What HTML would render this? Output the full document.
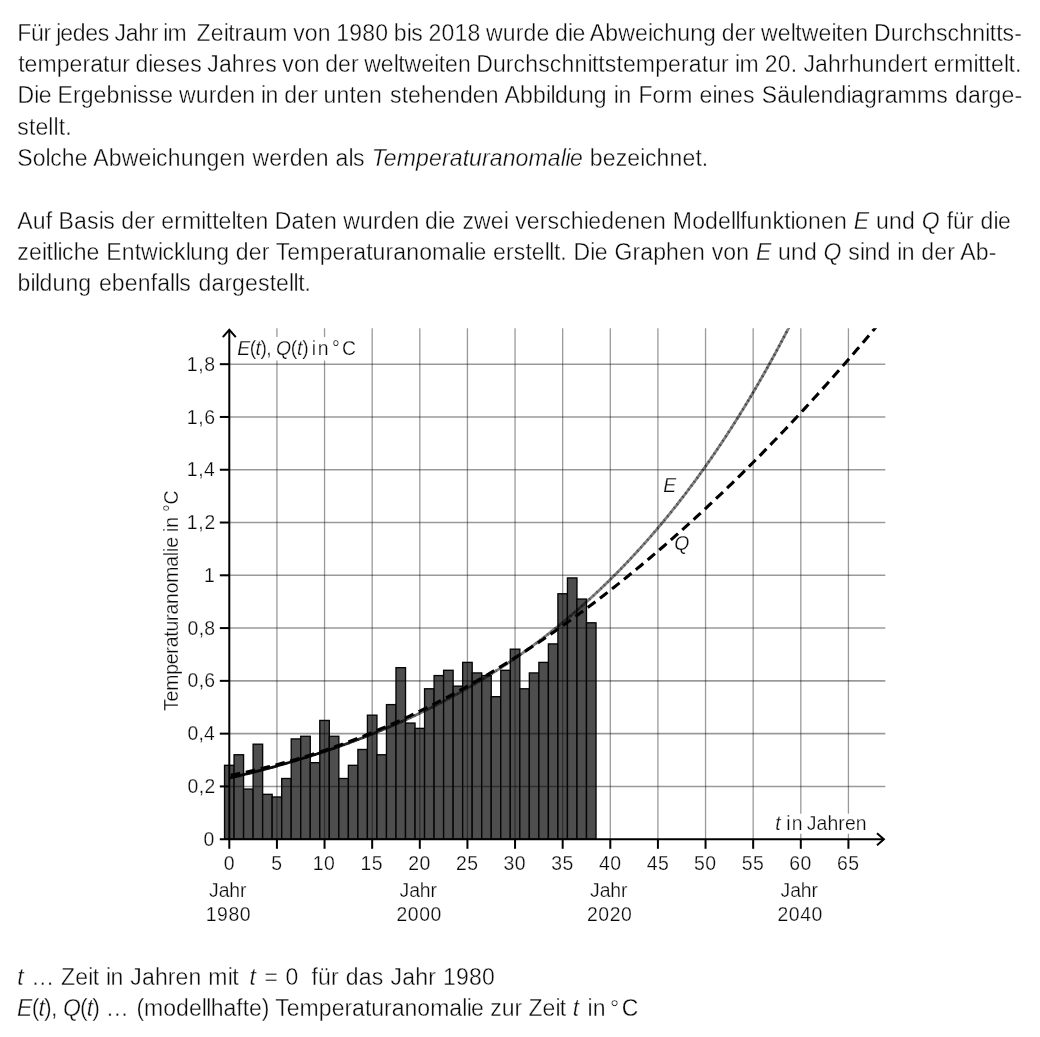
<!DOCTYPE html><html><head><meta charset="utf-8"><title>Temperaturanomalie</title><style>
html,body{margin:0;padding:0;background:#fff}
body{width:1040px;height:1037px;position:relative;overflow:hidden;font-family:"Liberation Sans",sans-serif;color:#0a0a0a}
#wrap{position:absolute;left:0;top:0;width:1040px;height:1037px;will-change:transform}
.t{position:absolute;white-space:nowrap;line-height:1;margin:0;font-size:23.0px;-webkit-text-stroke:0.35px #fff}
.c{font-size:19.4px;-webkit-text-stroke:0.25px #fff}
s{text-decoration:none}
s.n{letter-spacing:-0.5666px}s.m{letter-spacing:0.0197px}
svg{position:absolute;left:0;top:0}
</style></head><body><div id="wrap">
<svg width="1040" height="1037" viewBox="0 0 1040 1037">
<defs><clipPath id="cp"><rect x="0" y="328.3" width="1040" height="600"/></clipPath></defs>
<g fill="#4e4e4e" stroke="#050505" stroke-width="1.35">
<rect x="224.54" y="765.31" width="9.525" height="73.89"/>
<rect x="234.06" y="754.75" width="9.525" height="84.45"/>
<rect x="243.59" y="789.06" width="9.525" height="50.14"/>
<rect x="253.11" y="744.20" width="9.525" height="95.00"/>
<rect x="262.64" y="794.34" width="9.525" height="44.86"/>
<rect x="272.16" y="796.98" width="9.525" height="42.22"/>
<rect x="281.69" y="778.50" width="9.525" height="60.70"/>
<rect x="291.21" y="738.92" width="9.525" height="100.28"/>
<rect x="300.74" y="736.28" width="9.525" height="102.92"/>
<rect x="310.26" y="762.67" width="9.525" height="76.53"/>
<rect x="319.79" y="720.45" width="9.525" height="118.75"/>
<rect x="329.31" y="736.28" width="9.525" height="102.92"/>
<rect x="338.84" y="778.50" width="9.525" height="60.70"/>
<rect x="348.36" y="765.31" width="9.525" height="73.89"/>
<rect x="357.89" y="749.47" width="9.525" height="89.73"/>
<rect x="367.41" y="715.17" width="9.525" height="124.03"/>
<rect x="376.94" y="754.75" width="9.525" height="84.45"/>
<rect x="386.46" y="704.61" width="9.525" height="134.59"/>
<rect x="395.99" y="667.67" width="9.525" height="171.53"/>
<rect x="405.51" y="723.08" width="9.525" height="116.12"/>
<rect x="415.04" y="728.36" width="9.525" height="110.84"/>
<rect x="424.56" y="688.78" width="9.525" height="150.42"/>
<rect x="434.09" y="675.58" width="9.525" height="163.62"/>
<rect x="443.61" y="670.30" width="9.525" height="168.90"/>
<rect x="453.14" y="686.14" width="9.525" height="153.06"/>
<rect x="462.66" y="662.39" width="9.525" height="176.81"/>
<rect x="472.19" y="672.94" width="9.525" height="166.26"/>
<rect x="481.71" y="675.58" width="9.525" height="163.62"/>
<rect x="491.24" y="696.69" width="9.525" height="142.51"/>
<rect x="500.76" y="670.30" width="9.525" height="168.90"/>
<rect x="510.29" y="649.19" width="9.525" height="190.01"/>
<rect x="519.81" y="688.78" width="9.525" height="150.42"/>
<rect x="529.34" y="672.94" width="9.525" height="166.26"/>
<rect x="538.86" y="662.39" width="9.525" height="176.81"/>
<rect x="548.39" y="643.91" width="9.525" height="195.29"/>
<rect x="557.91" y="593.77" width="9.525" height="245.43"/>
<rect x="567.44" y="577.94" width="9.525" height="261.26"/>
<rect x="576.96" y="599.05" width="9.525" height="240.15"/>
<rect x="586.49" y="622.80" width="9.525" height="216.40"/>
</g>
<g stroke="#000" stroke-opacity="0.40" stroke-width="1.55" fill="none">
<line x1="276.93" y1="328.3" x2="276.93" y2="839.2" stroke-width="1.3"/>
<line x1="324.55" y1="328.3" x2="324.55" y2="839.2" stroke-width="1.3"/>
<line x1="372.18" y1="328.3" x2="372.18" y2="839.2" stroke-width="1.3"/>
<line x1="419.80" y1="328.3" x2="419.80" y2="839.2" stroke-width="1.3"/>
<line x1="467.43" y1="328.3" x2="467.43" y2="839.2" stroke-width="1.3"/>
<line x1="515.05" y1="328.3" x2="515.05" y2="839.2" stroke-width="1.3"/>
<line x1="562.67" y1="328.3" x2="562.67" y2="839.2" stroke-width="1.3"/>
<line x1="610.30" y1="328.3" x2="610.30" y2="839.2" stroke-width="1.3"/>
<line x1="657.92" y1="328.3" x2="657.92" y2="839.2" stroke-width="1.3"/>
<line x1="705.55" y1="328.3" x2="705.55" y2="839.2" stroke-width="1.3"/>
<line x1="753.17" y1="328.3" x2="753.17" y2="839.2" stroke-width="1.3"/>
<line x1="800.80" y1="328.3" x2="800.80" y2="839.2" stroke-width="1.3"/>
<line x1="848.42" y1="328.3" x2="848.42" y2="839.2" stroke-width="1.3"/>
<line x1="229.3" y1="786.42" x2="885.3" y2="786.42"/>
<line x1="229.3" y1="733.64" x2="885.3" y2="733.64"/>
<line x1="229.3" y1="680.86" x2="885.3" y2="680.86"/>
<line x1="229.3" y1="628.08" x2="885.3" y2="628.08"/>
<line x1="229.3" y1="575.30" x2="885.3" y2="575.30"/>
<line x1="229.3" y1="522.52" x2="885.3" y2="522.52"/>
<line x1="229.3" y1="469.74" x2="885.3" y2="469.74"/>
<line x1="229.3" y1="416.96" x2="885.3" y2="416.96"/>
<line x1="229.3" y1="364.18" x2="885.3" y2="364.18"/>
</g>
<rect x="236" y="337" width="121" height="23.5" fill="#fff"/>
<rect x="773" y="813.7" width="94" height="20" fill="#fff"/>
<g clip-path="url(#cp)" fill="none">
<g stroke="#000" stroke-width="2.8" stroke-linecap="butt">
<path d="M229.30,778.08 L230.20,777.87 L231.11,777.66 L232.01,777.45 L232.92,777.23 L233.82,777.02 L234.73,776.81" stroke-opacity="0.95"/>
<path d="M234.06,776.97 L234.97,776.75 L235.87,776.54 L236.78,776.32 L237.68,776.10 L238.59,775.89 L239.49,775.67" stroke-opacity="0.95"/>
<path d="M238.83,775.83 L239.73,775.61 L240.63,775.39 L241.54,775.17 L242.44,774.95 L243.35,774.73 L244.25,774.51" stroke-opacity="0.95"/>
<path d="M243.59,774.67 L244.49,774.45 L245.40,774.23 L246.30,774.00 L247.21,773.78 L248.11,773.55 L249.02,773.33" stroke-opacity="0.95"/>
<path d="M248.35,773.50 L249.25,773.27 L250.16,773.04 L251.06,772.81 L251.97,772.59 L252.87,772.36 L253.78,772.13" stroke-opacity="0.95"/>
<path d="M253.11,772.30 L254.02,772.07 L254.92,771.84 L255.83,771.60 L256.73,771.37 L257.64,771.14 L258.54,770.90" stroke-opacity="0.95"/>
<path d="M257.88,771.08 L258.78,770.84 L259.68,770.61 L260.59,770.37 L261.49,770.13 L262.40,769.89 L263.30,769.66" stroke-opacity="0.95"/>
<path d="M262.64,769.83 L263.54,769.59 L264.45,769.35 L265.35,769.11 L266.26,768.87 L267.16,768.63 L268.07,768.39" stroke-opacity="0.95"/>
<path d="M267.40,768.57 L268.30,768.32 L269.21,768.08 L270.11,767.83 L271.02,767.59 L271.92,767.34 L272.83,767.09" stroke-opacity="0.95"/>
<path d="M272.16,767.28 L273.07,767.03 L273.97,766.78 L274.88,766.53 L275.78,766.28 L276.69,766.03 L277.59,765.78" stroke-opacity="0.95"/>
<path d="M276.92,765.96 L277.83,765.71 L278.73,765.46 L279.64,765.21 L280.54,764.95 L281.45,764.70 L282.35,764.44" stroke-opacity="0.95"/>
<path d="M281.69,764.63 L282.59,764.37 L283.50,764.11 L284.40,763.86 L285.31,763.60 L286.21,763.34 L287.12,763.07" stroke-opacity="0.95"/>
<path d="M286.45,763.27 L287.35,763.01 L288.26,762.74 L289.16,762.48 L290.07,762.22 L290.97,761.95 L291.88,761.69" stroke-opacity="0.95"/>
<path d="M291.21,761.88 L292.12,761.62 L293.02,761.35 L293.93,761.08 L294.83,760.81 L295.74,760.54 L296.64,760.27" stroke-opacity="0.95"/>
<path d="M295.97,760.47 L296.88,760.20 L297.78,759.93 L298.69,759.65 L299.59,759.38 L300.50,759.11 L301.40,758.83" stroke-opacity="0.95"/>
<path d="M300.74,759.03 L301.64,758.76 L302.55,758.48 L303.45,758.20 L304.36,757.92 L305.26,757.64 L306.17,757.36" stroke-opacity="0.95"/>
<path d="M305.50,757.57 L306.40,757.29 L307.31,757.01 L308.21,756.73 L309.12,756.44 L310.02,756.16 L310.93,755.87" stroke-opacity="0.95"/>
<path d="M310.26,756.08 L311.17,755.80 L312.07,755.51 L312.98,755.22 L313.88,754.93 L314.79,754.64 L315.69,754.35" stroke-opacity="0.95"/>
<path d="M315.02,754.56 L315.93,754.27 L316.83,753.98 L317.74,753.69 L318.64,753.39 L319.55,753.10 L320.45,752.80" stroke-opacity="0.95"/>
<path d="M319.79,753.02 L320.69,752.72 L321.60,752.43 L322.50,752.13 L323.41,751.83 L324.31,751.53 L325.22,751.22" stroke-opacity="0.93"/>
<path d="M324.55,751.45 L325.45,751.14 L326.36,750.84 L327.26,750.54 L328.17,750.23 L329.07,749.93 L329.98,749.62" stroke-opacity="0.92"/>
<path d="M329.31,749.85 L330.22,749.54 L331.12,749.23 L332.03,748.92 L332.93,748.61 L333.84,748.30 L334.74,747.98" stroke-opacity="0.90"/>
<path d="M334.08,748.21 L334.98,747.90 L335.88,747.59 L336.79,747.27 L337.69,746.96 L338.60,746.64 L339.50,746.32" stroke-opacity="0.88"/>
<path d="M338.84,746.55 L339.74,746.24 L340.65,745.92 L341.55,745.59 L342.46,745.27 L343.36,744.95 L344.27,744.62" stroke-opacity="0.86"/>
<path d="M343.60,744.86 L344.50,744.54 L345.41,744.21 L346.31,743.89 L347.22,743.56 L348.12,743.23 L349.03,742.90" stroke-opacity="0.85"/>
<path d="M348.36,743.14 L349.27,742.81 L350.17,742.48 L351.08,742.15 L351.98,741.81 L352.89,741.48 L353.79,741.14" stroke-opacity="0.83"/>
<path d="M353.13,741.39 L354.03,741.05 L354.93,740.71 L355.84,740.38 L356.74,740.04 L357.65,739.69 L358.55,739.35" stroke-opacity="0.81"/>
<path d="M357.89,739.60 L358.79,739.26 L359.70,738.92 L360.60,738.57 L361.51,738.23 L362.41,737.88 L363.32,737.53" stroke-opacity="0.79"/>
<path d="M362.65,737.79 L363.55,737.44 L364.46,737.09 L365.36,736.74 L366.27,736.38 L367.17,736.03 L368.08,735.67" stroke-opacity="0.78"/>
<path d="M367.41,735.94 L368.24,735.61 L369.06,735.29 L369.89,734.96 L370.71,734.63 L371.54,734.30 L372.37,733.98" stroke-opacity="0.76"/>
<path d="M371.70,734.24 L372.52,733.91 L373.35,733.58 L374.18,733.25 L375.00,732.92 L375.83,732.58 L376.65,732.25" stroke-opacity="0.74"/>
<path d="M375.99,732.52 L376.81,732.18 L377.64,731.85 L378.46,731.51 L379.29,731.17 L380.11,730.83 L380.94,730.49" stroke-opacity="0.73"/>
<path d="M380.27,730.77 L381.10,730.43 L381.92,730.09 L382.75,729.74 L383.57,729.40 L384.40,729.06 L385.22,728.71" stroke-opacity="0.71"/>
<path d="M384.56,728.99 L385.38,728.64 L386.21,728.30 L387.03,727.95 L387.86,727.60 L388.69,727.25 L389.51,726.90" stroke-opacity="0.70"/>
<path d="M388.84,727.18 L389.67,726.83 L390.49,726.48 L391.32,726.12 L392.15,725.77 L392.97,725.41 L393.80,725.05" stroke-opacity="0.68"/>
<path d="M393.13,725.34 L393.96,724.98 L394.78,724.63 L395.61,724.27 L396.43,723.91 L397.26,723.54 L398.08,723.18" stroke-opacity="0.67"/>
<path d="M397.42,723.47 L398.24,723.11 L399.07,722.75 L399.89,722.38 L400.72,722.01 L401.54,721.65 L402.37,721.28" stroke-opacity="0.65"/>
<path d="M401.70,721.57 L402.53,721.21 L403.35,720.83 L404.18,720.46 L405.00,720.09 L405.83,719.72 L406.66,719.34" stroke-opacity="0.63"/>
<path d="M405.99,719.64 L406.81,719.27 L407.64,718.89 L408.47,718.51 L409.29,718.14 L410.12,717.76 L410.94,717.37" stroke-opacity="0.62"/>
<path d="M410.28,717.68 L411.10,717.30 L411.93,716.92 L412.75,716.53 L413.58,716.15 L414.40,715.76 L415.23,715.38" stroke-opacity="0.60"/>
<path d="M414.56,715.69 L415.39,715.30 L416.21,714.91 L417.04,714.52 L417.86,714.13 L418.69,713.74 L419.51,713.34" stroke-opacity="0.59"/>
<path d="M418.85,713.66 L419.67,713.27 L420.50,712.87 L421.32,712.48 L422.15,712.08 L422.98,711.68 L423.80,711.28" stroke-opacity="0.57"/>
<path d="M423.13,711.60 L423.96,711.20 L424.78,710.80 L425.61,710.40 L426.44,709.99 L427.26,709.59 L428.09,709.18" stroke-opacity="0.56"/>
<path d="M427.42,709.51 L428.25,709.10 L429.07,708.69 L429.90,708.28 L430.72,707.87 L431.55,707.46 L432.37,707.05" stroke-opacity="0.54"/>
<path d="M431.71,707.38 L432.53,706.97 L433.36,706.55 L434.18,706.13 L435.01,705.72 L435.83,705.30 L436.66,704.88" stroke-opacity="0.53"/>
<path d="M435.99,705.22 L436.82,704.80 L437.64,704.37 L438.47,703.95 L439.29,703.53 L440.12,703.10 L440.95,702.67" stroke-opacity="0.51"/>
<path d="M440.28,703.02 L441.10,702.59 L441.93,702.16 L442.76,701.73 L443.58,701.30 L444.41,700.87 L445.23,700.43" stroke-opacity="0.50"/>
<path d="M444.57,700.78 L445.39,700.35 L446.22,699.91 L447.04,699.48 L447.87,699.04 L448.69,698.60 L449.52,698.16" stroke-opacity="0.50"/>
<path d="M448.85,698.51 L449.68,698.07 L450.50,697.63 L451.33,697.18 L452.15,696.74 L452.98,696.29 L453.80,695.84" stroke-opacity="0.50"/>
<path d="M453.14,696.20 L453.96,695.75 L454.79,695.30 L455.61,694.85 L456.44,694.40 L457.27,693.94 L458.09,693.49" stroke-opacity="0.50"/>
<path d="M457.42,693.86 L458.25,693.40 L459.07,692.94 L459.90,692.48 L460.73,692.02 L461.55,691.56 L462.38,691.10" stroke-opacity="0.50"/>
<path d="M461.71,691.47 L462.54,691.01 L463.36,690.54 L464.19,690.08 L465.01,689.61 L465.84,689.14 L466.66,688.67" stroke-opacity="0.50"/>
<path d="M466.00,689.05 L466.82,688.58 L467.65,688.10 L468.47,687.63 L469.30,687.15 L470.12,686.68 L470.95,686.20" stroke-opacity="0.50"/>
<path d="M470.28,686.58 L471.11,686.10 L471.93,685.62 L472.76,685.14 L473.58,684.66 L474.41,684.17 L475.24,683.69" stroke-opacity="0.50"/>
<path d="M474.57,684.08 L475.39,683.59 L476.22,683.10 L477.05,682.61 L477.87,682.12 L478.70,681.63 L479.52,681.13" stroke-opacity="0.50"/>
<path d="M478.86,681.53 L479.68,681.04 L480.51,680.54 L481.33,680.04 L482.16,679.54 L482.98,679.04 L483.81,678.54" stroke-opacity="0.50"/>
<path d="M483.14,678.95 L483.97,678.44 L484.79,677.94 L485.62,677.43 L486.44,676.92 L487.27,676.41 L488.09,675.90" stroke-opacity="0.50"/>
<path d="M487.43,676.32 L488.25,675.81 L489.08,675.29 L489.90,674.78 L490.73,674.26 L491.56,673.74 L492.38,673.22" stroke-opacity="0.50"/>
<path d="M491.71,673.64 L492.54,673.12 L493.36,672.60 L494.19,672.08 L495.02,671.55 L495.84,671.03 L496.67,670.50" stroke-opacity="0.50"/>
<path d="M496.00,670.93 L496.83,670.40 L497.65,669.87 L498.48,669.34 L499.30,668.80 L500.13,668.27 L500.95,667.73" stroke-opacity="0.50"/>
<path d="M500.29,668.17 L501.11,667.63 L501.94,667.09 L502.76,666.55 L503.59,666.01 L504.41,665.46 L505.24,664.92" stroke-opacity="0.50"/>
<path d="M504.57,665.36 L505.40,664.81 L506.22,664.27 L507.05,663.72 L507.87,663.17 L508.70,662.61 L509.53,662.06" stroke-opacity="0.50"/>
<path d="M508.86,662.51 L509.68,661.95 L510.51,661.40 L511.34,660.84 L512.16,660.28 L512.99,659.72 L513.81,659.15" stroke-opacity="0.50"/>
<path d="M513.15,659.61 L513.89,659.10 L514.64,658.59 L515.38,658.07 L516.13,657.56 L516.88,657.04 L517.62,656.53" stroke-opacity="0.50"/>
<path d="M516.96,656.99 L517.70,656.47 L518.45,655.95 L519.19,655.43 L519.94,654.91 L520.69,654.39 L521.43,653.87" stroke-opacity="0.50"/>
<path d="M520.77,654.33 L521.51,653.81 L522.26,653.28 L523.00,652.76 L523.75,652.23 L524.50,651.70 L525.24,651.16" stroke-opacity="0.50"/>
<path d="M524.58,651.64 L525.32,651.11 L526.07,650.57 L526.81,650.04 L527.56,649.50 L528.31,648.96 L529.05,648.42" stroke-opacity="0.50"/>
<path d="M528.39,648.91 L529.13,648.37 L529.88,647.83 L530.62,647.28 L531.37,646.74 L532.12,646.19 L532.86,645.64" stroke-opacity="0.50"/>
<path d="M532.20,646.13 L532.94,645.59 L533.69,645.04 L534.43,644.49 L535.18,643.93 L535.93,643.38 L536.67,642.82" stroke-opacity="0.50"/>
<path d="M536.01,643.32 L536.75,642.76 L537.50,642.21 L538.24,641.65 L538.99,641.09 L539.74,640.53 L540.48,639.96" stroke-opacity="0.50"/>
<path d="M539.82,640.47 L540.56,639.90 L541.31,639.34 L542.05,638.77 L542.80,638.20 L543.55,637.63 L544.29,637.06" stroke-opacity="0.50"/>
<path d="M543.63,637.57 L544.37,637.00 L545.12,636.42 L545.86,635.85 L546.61,635.27 L547.36,634.69 L548.10,634.11" stroke-opacity="0.50"/>
<path d="M547.44,634.63 L548.18,634.05 L548.93,633.47 L549.67,632.88 L550.42,632.30 L551.17,631.71 L551.91,631.12" stroke-opacity="0.50"/>
<path d="M551.25,631.65 L551.99,631.06 L552.74,630.47 L553.48,629.88 L554.23,629.28 L554.98,628.69 L555.72,628.09" stroke-opacity="0.50"/>
<path d="M555.06,628.63 L555.80,628.03 L556.55,627.43 L557.29,626.83 L558.04,626.23 L558.79,625.62 L559.53,625.01" stroke-opacity="0.50"/>
<path d="M558.87,625.56 L559.61,624.95 L560.36,624.34 L561.10,623.73 L561.85,623.12 L562.60,622.51 L563.34,621.89" stroke-opacity="0.50"/>
<path d="M562.68,622.44 L563.42,621.83 L564.17,621.21 L564.91,620.59 L565.66,619.97 L566.41,619.35 L567.15,618.73" stroke-opacity="0.50"/>
<path d="M566.49,619.28 L567.23,618.66 L567.98,618.03 L568.72,617.41 L569.47,616.78 L570.22,616.15 L570.96,615.51" stroke-opacity="0.50"/>
<path d="M570.30,616.08 L571.04,615.45 L571.79,614.81 L572.53,614.17 L573.28,613.54 L574.03,612.90 L574.77,612.25" stroke-opacity="0.50"/>
<path d="M574.11,612.83 L574.85,612.19 L575.60,611.54 L576.34,610.90 L577.09,610.25 L577.84,609.60 L578.58,608.95" stroke-opacity="0.50"/>
<path d="M577.92,609.53 L578.66,608.88 L579.41,608.22 L580.15,607.57 L580.90,606.91 L581.65,606.25 L582.39,605.59" stroke-opacity="0.50"/>
<path d="M581.73,606.18 L582.47,605.52 L583.22,604.86 L583.96,604.19 L584.71,603.53 L585.46,602.86 L586.20,602.19" stroke-opacity="0.50"/>
<path d="M585.54,602.79 L586.28,602.12 L587.03,601.44 L587.77,600.77 L588.52,600.09 L589.27,599.41 L590.01,598.73" stroke-opacity="0.50"/>
<path d="M589.34,599.34 L590.09,598.66 L590.84,597.98 L591.58,597.29 L592.33,596.61 L593.08,595.92 L593.82,595.23" stroke-opacity="0.50"/>
<path d="M593.15,595.85 L593.90,595.15 L594.65,594.46 L595.39,593.77 L596.14,593.07 L596.89,592.37 L597.63,591.67" stroke-opacity="0.50"/>
<path d="M596.96,592.30 L597.71,591.60 L598.46,590.90 L599.20,590.19 L599.95,589.48 L600.70,588.78 L601.44,588.07" stroke-opacity="0.50"/>
<path d="M600.77,588.70 L601.44,588.07 L602.11,587.43 L602.78,586.79 L603.44,586.15 L604.11,585.51 L604.78,584.87" stroke-opacity="0.50"/>
<path d="M604.11,585.51 L604.78,584.87 L605.44,584.22 L606.11,583.57 L606.78,582.93 L607.44,582.28 L608.11,581.63" stroke-opacity="0.50"/>
<path d="M607.44,582.28 L608.11,581.63 L608.78,580.97 L609.44,580.32 L610.11,579.66 L610.78,579.00 L611.44,578.34" stroke-opacity="0.50"/>
<path d="M610.78,579.00 L611.44,578.34 L612.11,577.68 L612.78,577.02 L613.44,576.36 L614.11,575.69 L614.78,575.02" stroke-opacity="0.50"/>
<path d="M614.11,575.69 L614.78,575.02 L615.44,574.35 L616.11,573.68 L616.78,573.01 L617.44,572.33 L618.11,571.66" stroke-opacity="0.50"/>
<path d="M617.44,572.33 L618.11,571.66 L618.78,570.98 L619.44,570.30 L620.11,569.62 L620.78,568.93 L621.44,568.25" stroke-opacity="0.50"/>
<path d="M620.78,568.93 L621.44,568.25 L622.11,567.56 L622.78,566.87 L623.44,566.18 L624.11,565.49 L624.78,564.80" stroke-opacity="0.50"/>
<path d="M624.11,565.49 L624.78,564.80 L625.44,564.10 L626.11,563.40 L626.78,562.70 L627.44,562.00 L628.11,561.30" stroke-opacity="0.50"/>
<path d="M627.44,562.00 L628.11,561.30 L628.78,560.59 L629.45,559.89 L630.11,559.18 L630.78,558.47 L631.45,557.76" stroke-opacity="0.50"/>
<path d="M630.78,558.47 L631.45,557.76 L632.11,557.05 L632.78,556.33 L633.45,555.61 L634.11,554.89 L634.78,554.17" stroke-opacity="0.50"/>
<path d="M634.11,554.89 L634.78,554.17 L635.45,553.45 L636.11,552.73 L636.78,552.00 L637.45,551.27 L638.11,550.54" stroke-opacity="0.50"/>
<path d="M637.45,551.27 L638.11,550.54 L638.78,549.81 L639.45,549.08 L640.11,548.34 L640.78,547.60 L641.45,546.86" stroke-opacity="0.50"/>
<path d="M640.78,547.60 L641.45,546.86 L642.11,546.12 L642.78,545.38 L643.45,544.64 L644.11,543.89 L644.78,543.14" stroke-opacity="0.50"/>
<path d="M644.11,543.89 L644.78,543.14 L645.45,542.39 L646.11,541.64 L646.78,540.88 L647.45,540.13 L648.11,539.37" stroke-opacity="0.50"/>
<path d="M647.45,540.13 L648.11,539.37 L648.78,538.61 L649.45,537.85 L650.11,537.08 L650.78,536.32 L651.45,535.55" stroke-opacity="0.50"/>
<path d="M650.78,536.32 L651.45,535.55 L652.11,534.78 L652.78,534.01 L653.45,533.23 L654.11,532.46 L654.78,531.68" stroke-opacity="0.50"/>
<path d="M654.11,532.46 L654.78,531.68 L655.45,530.90 L656.12,530.12 L656.78,529.34 L657.45,528.55 L658.12,527.76" stroke-opacity="0.50"/>
<path d="M657.45,528.55 L658.12,527.76 L658.78,526.97 L659.45,526.18 L660.12,525.39 L660.78,524.59 L661.45,523.79" stroke-opacity="0.50"/>
<path d="M660.78,524.59 L661.45,523.79 L662.12,522.99 L662.78,522.19 L663.45,521.39 L664.12,520.58 L664.78,519.78" stroke-opacity="0.50"/>
<path d="M664.12,520.58 L664.78,519.78 L665.45,518.97 L666.12,518.15 L666.78,517.34 L667.45,516.52 L668.12,515.71" stroke-opacity="0.50"/>
<path d="M667.45,516.52 L668.12,515.71 L668.78,514.89 L669.45,514.06 L670.12,513.24 L670.78,512.41 L671.45,511.59" stroke-opacity="0.50"/>
<path d="M670.78,512.41 L671.45,511.59 L672.12,510.75 L672.78,509.92 L673.45,509.09 L674.12,508.25 L674.78,507.41" stroke-opacity="0.50"/>
<path d="M674.12,508.25 L674.70,507.51 L675.29,506.77 L675.88,506.03 L676.47,505.28 L677.05,504.54 L677.64,503.79" stroke-opacity="0.50"/>
<path d="M676.97,504.64 L677.56,503.89 L678.15,503.14 L678.74,502.39 L679.32,501.64 L679.91,500.89 L680.50,500.13" stroke-opacity="0.50"/>
<path d="M679.83,500.99 L680.42,500.23 L681.01,499.48 L681.59,498.72 L682.18,497.96 L682.77,497.20 L683.36,496.43" stroke-opacity="0.50"/>
<path d="M682.69,497.30 L683.28,496.54 L683.86,495.77 L684.45,495.00 L685.04,494.24 L685.63,493.47 L686.21,492.69" stroke-opacity="0.50"/>
<path d="M685.55,493.57 L686.13,492.80 L686.72,492.02 L687.31,491.25 L687.90,490.47 L688.48,489.69 L689.07,488.91" stroke-opacity="0.50"/>
<path d="M688.40,489.80 L688.99,489.02 L689.58,488.24 L690.17,487.45 L690.75,486.67 L691.34,485.88 L691.93,485.09" stroke-opacity="0.50"/>
<path d="M691.26,485.99 L691.85,485.20 L692.44,484.41 L693.02,483.62 L693.61,482.82 L694.20,482.03 L694.79,481.23" stroke-opacity="0.50"/>
<path d="M694.12,482.13 L694.71,481.34 L695.29,480.54 L695.88,479.74 L696.47,478.93 L697.06,478.13 L697.64,477.32" stroke-opacity="0.50"/>
<path d="M696.98,478.24 L697.56,477.43 L698.15,476.62 L698.74,475.81 L699.33,475.00 L699.91,474.19 L700.50,473.37" stroke-opacity="0.50"/>
<path d="M699.83,474.30 L700.42,473.48 L701.01,472.67 L701.60,471.85 L702.18,471.03 L702.77,470.21 L703.36,469.38" stroke-opacity="0.50"/>
<path d="M702.69,470.32 L703.28,469.49 L703.87,468.67 L704.45,467.84 L705.04,467.01 L705.63,466.18 L706.22,465.35" stroke-opacity="0.50"/>
<path d="M705.55,466.29 L706.14,465.46 L706.72,464.63 L707.31,463.79 L707.90,462.95 L708.49,462.11 L709.07,461.27" stroke-opacity="0.50"/>
<path d="M708.41,462.23 L708.99,461.38 L709.58,460.54 L710.17,459.69 L710.76,458.85 L711.34,458.00 L711.93,457.15" stroke-opacity="0.50"/>
<path d="M711.26,458.11 L711.85,457.26 L712.44,456.41 L713.03,455.55 L713.61,454.70 L714.20,453.84 L714.79,452.98" stroke-opacity="0.50"/>
<path d="M714.12,453.95 L714.71,453.09 L715.30,452.23 L715.88,451.37 L716.47,450.50 L717.06,449.63 L717.65,448.76" stroke-opacity="0.50"/>
<path d="M716.98,449.75 L717.57,448.88 L718.15,448.01 L718.74,447.14 L719.33,446.26 L719.92,445.38 L720.50,444.50" stroke-opacity="0.50"/>
<path d="M719.84,445.50 L720.42,444.62 L721.01,443.74 L721.60,442.86 L722.19,441.97 L722.77,441.09 L723.36,440.20" stroke-opacity="0.50"/>
<path d="M722.69,441.21 L723.28,440.32 L723.87,439.43 L724.46,438.54 L725.04,437.64 L725.63,436.74 L726.22,435.85" stroke-opacity="0.50"/>
<path d="M725.55,436.87 L726.14,435.97 L726.73,435.07 L727.31,434.16 L727.90,433.26 L728.49,432.35 L729.08,431.44" stroke-opacity="0.50"/>
<path d="M728.41,432.48 L729.00,431.57 L729.58,430.66 L730.17,429.75 L730.76,428.83 L731.35,427.91 L731.93,427.00" stroke-opacity="0.50"/>
<path d="M731.27,428.04 L731.85,427.12 L732.44,426.20 L733.03,425.28 L733.62,424.35 L734.20,423.43 L734.79,422.50" stroke-opacity="0.50"/>
<path d="M734.12,423.55 L734.71,422.62 L735.30,421.69 L735.89,420.76 L736.47,419.83 L737.06,418.89 L737.65,417.95" stroke-opacity="0.50"/>
<path d="M736.98,419.02 L737.57,418.08 L738.16,417.14 L738.74,416.20 L739.33,415.25 L739.92,414.31 L740.51,413.36" stroke-opacity="0.50"/>
<path d="M739.84,414.43 L740.43,413.49 L741.01,412.53 L741.60,411.58 L742.19,410.63 L742.78,409.67 L743.36,408.71" stroke-opacity="0.50"/>
<path d="M742.70,409.80 L743.28,408.84 L743.87,407.88 L744.46,406.92 L745.05,405.95 L745.63,404.98 L746.22,404.01" stroke-opacity="0.50"/>
<path d="M745.55,405.11 L746.06,404.28 L746.57,403.44 L747.08,402.60 L747.59,401.75 L748.09,400.91 L748.60,400.06" stroke-opacity="0.50"/>
<path d="M747.94,401.17 L748.44,400.33 L748.95,399.48 L749.46,398.63 L749.97,397.78 L750.48,396.93 L750.98,396.07" stroke-opacity="0.50"/>
<path d="M750.32,397.19 L750.83,396.34 L751.33,395.48 L751.84,394.63 L752.35,393.77 L752.86,392.91 L753.37,392.05" stroke-opacity="0.50"/>
<path d="M752.70,393.18 L753.21,392.32 L753.71,391.45 L754.22,390.59 L754.73,389.72 L755.24,388.86 L755.75,387.99" stroke-opacity="0.50"/>
<path d="M755.08,389.13 L755.59,388.26 L756.10,387.39 L756.60,386.51 L757.11,385.64 L757.62,384.76 L758.13,383.89" stroke-opacity="0.50"/>
<path d="M757.46,385.04 L757.97,384.16 L758.48,383.28 L758.99,382.40 L759.49,381.52 L760.00,380.64 L760.51,379.75" stroke-opacity="0.50"/>
<path d="M759.84,380.91 L760.35,380.03 L760.86,379.14 L761.37,378.25 L761.87,377.36 L762.38,376.47 L762.89,375.58" stroke-opacity="0.50"/>
<path d="M762.22,376.75 L762.73,375.86 L763.24,374.96 L763.75,374.07 L764.26,373.17 L764.76,372.27 L765.27,371.37" stroke-opacity="0.50"/>
<path d="M764.60,372.55 L765.11,371.65 L765.62,370.75 L766.13,369.84 L766.64,368.93 L767.14,368.03 L767.65,367.12" stroke-opacity="0.50"/>
<path d="M766.99,368.31 L767.49,367.40 L768.00,366.49 L768.51,365.58 L769.02,364.66 L769.53,363.75 L770.03,362.83" stroke-opacity="0.50"/>
<path d="M769.37,364.03 L769.88,363.12 L770.38,362.20 L770.89,361.28 L771.40,360.35 L771.91,359.43 L772.42,358.50" stroke-opacity="0.50"/>
<path d="M771.75,359.72 L772.26,358.79 L772.76,357.86 L773.27,356.93 L773.78,356.00 L774.29,355.07 L774.80,354.14" stroke-opacity="0.50"/>
<path d="M774.13,355.36 L774.64,354.43 L775.15,353.49 L775.65,352.55 L776.16,351.61 L776.67,350.67 L777.18,349.73" stroke-opacity="0.50"/>
<path d="M776.51,350.97 L777.02,350.02 L777.53,349.08 L778.04,348.13 L778.54,347.18 L779.05,346.23 L779.56,345.28" stroke-opacity="0.50"/>
<path d="M778.89,346.53 L779.40,345.58 L779.91,344.63 L780.42,343.67 L780.92,342.72 L781.43,341.76 L781.94,340.80" stroke-opacity="0.50"/>
<path d="M781.27,342.06 L781.78,341.10 L782.29,340.14 L782.80,339.17 L783.31,338.21 L783.81,337.24 L784.32,336.27" stroke-opacity="0.50"/>
<path d="M783.65,337.54 L784.16,336.57 L784.67,335.60 L785.18,334.63 L785.69,333.66 L786.19,332.68 L786.70,331.70" stroke-opacity="0.50"/>
<path d="M786.04,332.98 L786.54,332.01 L787.05,331.03 L787.56,330.05 L788.07,329.06 L788.58,328.08 L789.08,327.09" stroke-opacity="0.50"/>
<path d="M788.42,328.39 L788.93,327.40 L789.43,326.41 L789.94,325.42 L790.45,324.43 L790.96,323.44 L791.47,322.44" stroke-opacity="0.50"/>
<path d="M790.80,323.75 L791.31,322.75 L791.81,321.75 L792.32,320.75 L792.83,319.75 L793.34,318.75 L793.85,317.75" stroke-opacity="0.50"/>
<path d="M793.18,319.06 L793.69,318.06 L794.20,317.05 L794.70,316.04 L795.21,315.03 L795.72,314.02 L796.23,313.01" stroke-opacity="0.50"/>
<path d="M795.56,314.34 L796.07,313.33 L796.58,312.31 L797.09,311.29 L797.59,310.27 L798.10,309.25 L798.61,308.23" stroke-opacity="0.50"/>
</g>
<path d="M229.30,775.47 L232.59,774.84 L235.87,774.19 L239.16,773.53 L242.44,772.85 L245.73,772.15 L249.02,771.43 L252.30,770.70 L255.59,769.95 L258.88,769.19 L262.16,768.41 L265.45,767.61 L268.73,766.79 L272.02,765.96 L275.31,765.11 L278.59,764.25 L281.88,763.36 L285.16,762.46 L288.45,761.55 L291.74,760.61 L295.02,759.66 L298.31,758.70 L301.59,757.71 L304.88,756.71 L308.17,755.70 L311.45,754.66 L314.74,753.61 L318.03,752.54 L321.31,751.46 L324.60,750.36 L327.88,749.24 L331.17,748.10 L334.46,746.95 L337.74,745.78 L341.03,744.59 L344.31,743.39 L347.60,742.17 L350.89,740.94 L354.17,739.68 L357.46,738.41 L360.75,737.13 L364.03,735.82 L367.32,734.50 L370.60,733.16 L373.89,731.81 L377.18,730.44 L380.46,729.05 L383.75,727.65 L387.03,726.22 L390.32,724.79 L393.61,723.33 L396.89,721.86 L400.18,720.37 L403.46,718.86 L406.75,717.34 L410.04,715.80 L413.32,714.25 L416.61,712.67 L419.90,711.08 L423.18,709.48 L426.47,707.85 L429.75,706.21 L433.04,704.55 L436.33,702.88 L439.61,701.19 L442.90,699.48 L446.18,697.76 L449.47,696.02 L452.76,694.26 L456.04,692.48 L459.33,690.69 L462.61,688.88 L465.90,687.06 L469.19,685.21 L472.47,683.35 L475.76,681.48 L479.05,679.59 L482.33,677.68 L485.62,675.75 L488.90,673.81 L492.19,671.85 L495.48,669.87 L498.76,667.87 L502.05,665.86 L505.33,663.84 L508.62,661.79 L511.91,659.73 L515.19,657.65 L518.48,655.56 L521.77,653.44 L525.05,651.32 L528.34,649.17 L531.62,647.01 L534.91,644.83 L538.20,642.63 L541.48,640.42 L544.77,638.19 L548.05,635.94 L551.34,633.68 L554.63,631.40 L557.91,629.10 L561.20,626.79 L564.48,624.46 L567.77,622.11 L571.06,619.75 L574.34,617.37 L577.63,614.97 L580.92,612.55 L584.20,610.12 L587.49,607.67 L590.77,605.21 L594.06,602.72 L597.35,600.23 L600.63,597.71 L603.92,595.18 L607.20,592.63 L610.49,590.06 L613.78,587.48 L617.06,584.88 L620.35,582.26 L623.63,579.63 L626.92,576.98 L630.21,574.31 L633.49,571.62 L636.78,568.92 L640.07,566.21 L643.35,563.47 L646.64,560.72 L649.92,557.95 L653.21,555.17 L656.50,552.36 L659.78,549.54 L663.07,546.71 L666.35,543.86 L669.64,540.99 L672.93,538.10 L676.21,535.20 L679.50,532.28 L682.79,529.34 L686.07,526.39 L689.36,523.42 L692.64,520.43 L695.93,517.42 L699.22,514.40 L702.50,511.37 L705.79,508.31 L709.07,505.24 L712.36,502.15 L715.65,499.05 L718.93,495.92 L722.22,492.79 L725.50,489.63 L728.79,486.46 L732.08,483.27 L735.36,480.06 L738.65,476.84 L741.94,473.60 L745.22,470.34 L748.51,467.07 L751.79,463.78 L755.08,460.47 L758.37,457.15 L761.65,453.81 L764.94,450.45 L768.22,447.07 L771.51,443.68 L774.80,440.27 L778.08,436.85 L781.37,433.41 L784.66,429.95 L787.94,426.47 L791.23,422.98 L794.51,419.47 L797.80,415.95 L801.09,412.40 L804.37,408.84 L807.66,405.27 L810.94,401.67 L814.23,398.06 L817.52,394.44 L820.80,390.79 L824.09,387.13 L827.37,383.45 L830.66,379.76 L833.95,376.05 L837.23,372.32 L840.52,368.57 L843.81,364.81 L847.09,361.03 L850.38,357.24 L853.66,353.43 L856.95,349.60 L860.24,345.75 L863.52,341.89 L866.81,338.01 L870.09,334.11 L873.38,330.20 L876.67,326.27 L879.95,322.32 L883.24,318.36 L886.53,314.38" stroke="#000" stroke-width="3.1" stroke-dasharray="9.6 5.7" stroke-dashoffset="-1.5"/>
</g>
<g stroke="#000" stroke-width="2" fill="none">
<line x1="229.3" y1="330" x2="229.3" y2="840.2"/>
<line x1="219.8" y1="839.2" x2="884" y2="839.2"/>
<polyline points="222.8,337.2 229.3,329.8 235.8,337.2" stroke-linejoin="miter"/>
<polyline points="877.0,833.2 883.9,839.2 877.0,845.2" stroke-linejoin="miter"/>
<line x1="219.8" y1="786.42" x2="229.3" y2="786.42"/>
<line x1="219.8" y1="733.64" x2="229.3" y2="733.64"/>
<line x1="219.8" y1="680.86" x2="229.3" y2="680.86"/>
<line x1="219.8" y1="628.08" x2="229.3" y2="628.08"/>
<line x1="219.8" y1="575.30" x2="229.3" y2="575.30"/>
<line x1="219.8" y1="522.52" x2="229.3" y2="522.52"/>
<line x1="219.8" y1="469.74" x2="229.3" y2="469.74"/>
<line x1="219.8" y1="416.96" x2="229.3" y2="416.96"/>
<line x1="219.8" y1="364.18" x2="229.3" y2="364.18"/>
<line x1="229.30" y1="839.2" x2="229.30" y2="848.8"/>
<line x1="276.93" y1="839.2" x2="276.93" y2="848.8"/>
<line x1="324.55" y1="839.2" x2="324.55" y2="848.8"/>
<line x1="372.18" y1="839.2" x2="372.18" y2="848.8"/>
<line x1="419.80" y1="839.2" x2="419.80" y2="848.8"/>
<line x1="467.43" y1="839.2" x2="467.43" y2="848.8"/>
<line x1="515.05" y1="839.2" x2="515.05" y2="848.8"/>
<line x1="562.67" y1="839.2" x2="562.67" y2="848.8"/>
<line x1="610.30" y1="839.2" x2="610.30" y2="848.8"/>
<line x1="657.92" y1="839.2" x2="657.92" y2="848.8"/>
<line x1="705.55" y1="839.2" x2="705.55" y2="848.8"/>
<line x1="753.17" y1="839.2" x2="753.17" y2="848.8"/>
<line x1="800.80" y1="839.2" x2="800.80" y2="848.8"/>
<line x1="848.42" y1="839.2" x2="848.42" y2="848.8"/>
</g>
</svg>
<div class="t" id="l1a" style="left:17.35px;top:22px;letter-spacing:-0.3000px;word-spacing:-0.6426px">Fü<s style="letter-spacing:-0.441px">r</s> <s style="letter-spacing:-1.028px">j</s>edes Jah<s style="letter-spacing:-0.441px">r</s> <s style="letter-spacing:-1.028px">i</s>m</div>
<div class="t" id="l1b" style="left:196.46px;top:22px;letter-spacing:0.1609px;word-spacing:-0.9097px">Ze<s class="n">i</s><s class="m">t</s><s class="m">r</s>aum von 1980 b<s class="n">i</s>s 2018 wu<s class="m">r</s>de d<s class="n">i</s>e Abwe<s class="n">i</s>chung de<s class="m">r</s> we<s class="n">l</s><s class="m">t</s>we<s class="n">i</s><s class="m">t</s>en Du<s class="m">r</s>chschn<s class="n">i</s><s class="m">t</s><s class="m">t</s>s-</div>
<div class="t" id="l2a" style="left:18.21px;top:53px;letter-spacing:0.1000px;word-spacing:-0.9796px"><s style="letter-spacing:-0.041px">t</s>empe<s style="letter-spacing:-0.041px">r</s>a<s style="letter-spacing:-0.041px">t</s>u<s style="letter-spacing:-0.041px">r</s> d<s style="letter-spacing:-0.628px">i</s>eses Jah<s style="letter-spacing:-0.041px">r</s>es von de<s style="letter-spacing:-0.041px">r</s> we<s style="letter-spacing:-0.628px">l</s><s style="letter-spacing:-0.041px">t</s>we<s style="letter-spacing:-0.628px">i</s><s style="letter-spacing:-0.041px">t</s>en</div>
<div class="t" id="l2b" style="left:476.14px;top:53px;letter-spacing:0.1609px;word-spacing:-0.4523px">Du<s class="m">r</s>chschn<s class="n">i</s><s class="m">t</s><s class="m">t</s>s<s class="m">t</s>empe<s class="m">r</s>a<s class="m">t</s>u<s class="m">r</s> <s class="n">i</s>m 20. Jah<s class="m">r</s>hunde<s class="m">r</s><s class="m">t</s> e<s class="m">r</s>m<s class="n">i</s><s class="m">t</s><s class="m">t</s>e<s class="n">l</s><s class="m">t</s>.</div>
<div class="t" id="l3a" style="left:17.44px;top:84px;letter-spacing:0.1609px;word-spacing:-0.8149px">D<s class="n">i</s>e E<s class="m">r</s>gebn<s class="n">i</s>sse wu<s class="m">r</s>den <s class="n">i</s>n de<s class="m">r</s> un<s class="m">t</s>en</div>
<div class="t" id="l3b" style="left:389.99px;top:84px;letter-spacing:0.1609px;word-spacing:0.4810px">s<s class="m">t</s>ehenden Abb<s class="n">i</s><s class="n">l</s>dung <s class="n">i</s>n Fo<s class="m">r</s>m e<s class="n">i</s>nes Säu<s class="n">l</s>end<s class="n">i</s>ag<s class="m">r</s>amms da<s class="m">r</s>ge-</div>
<div class="t" id="l5" style="left:17.13px;top:147px;letter-spacing:0.1609px;word-spacing:0.3741px">So<s class="n">l</s>che Abwe<s class="n">i</s>chungen we<s class="m">r</s>den a<s class="n">l</s>s <i>Tempe<s class="m">r</s>a<s class="m">t</s>u<s class="m">r</s>anoma<s class="n">l</s><s class="n">i</s>e</i> beze<s class="n">i</s>chne<s class="m">t</s>.</div>
<div class="t" id="l6a" style="left:17.24px;top:210px;letter-spacing:0.1609px;word-spacing:-0.1509px">Au<s class="m">f</s> Bas<s class="n">i</s>s de<s class="m">r</s> e<s class="m">r</s>m<s class="n">i</s><s class="m">t</s><s class="m">t</s>e<s class="n">l</s><s class="m">t</s>en Da<s class="m">t</s>en wu<s class="m">r</s>den</div>
<div class="t" id="l6b" style="left:425.11px;top:210px;letter-spacing:0.1609px;word-spacing:0.2766px">d<s class="n">i</s>e zwe<s class="n">i</s> ve<s class="m">r</s>sch<s class="n">i</s>edenen Mode<s class="n">l</s><s class="n">l</s><s class="m">f</s>unk<s class="m">t</s><s class="n">i</s>onen <i>E</i> und <i>Q</i> <s class="m">f</s>ü<s class="m">r</s> d<s class="n">i</s>e</div>
<div class="t" id="l7" style="left:17.31px;top:241px;letter-spacing:0.1609px;word-spacing:0.1199px">ze<s class="n">i</s><s class="m">t</s><s class="n">l</s><s class="n">i</s>che En<s class="m">t</s>w<s class="n">i</s>ck<s class="n">l</s>ung de<s class="m">r</s> Tempe<s class="m">r</s>a<s class="m">t</s>u<s class="m">r</s>anoma<s class="n">l</s><s class="n">i</s>e e<s class="m">r</s>s<s class="m">t</s>e<s class="n">l</s><s class="n">l</s><s class="m">t</s>. D<s class="n">i</s>e G<s class="m">r</s>aphen von <i>E</i> und <i>Q</i> s<s class="n">i</s>nd <s class="n">i</s>n de<s class="m">r</s> Ab-</div>
<div class="t" id="l8" style="left:17.44px;top:272px;letter-spacing:0.1609px;word-spacing:1.0668px">b<s class="n">i</s><s class="n">l</s>dung eben<s class="m">f</s>a<s class="n">l</s><s class="n">l</s>s da<s class="m">r</s>ges<s class="m">t</s>e<s class="n">l</s><s class="n">l</s><s class="m">t</s>.</div>
<div class="t" id="b1c" style="left:60.96px;top:966px;letter-spacing:0.1609px;word-spacing:0.2906px">Ze<s class="n">i</s><s class="m">t</s> <s class="n">i</s>n Jah<s class="m">r</s>en m<s class="n">i</s><s class="m">t</s></div>
<div class="t" id="b1g" style="left:311.56px;top:966px;letter-spacing:0.1609px;word-spacing:0.6482px"><s class="m">f</s>ü<s class="m">r</s> das Jah<s class="m">r</s> 1980</div>
<div class="t" id="b2d" style="left:136.44px;top:997px;letter-spacing:0.0500px;word-spacing:-0.1885px"><s style="letter-spacing:-0.091px">(</s>mode<s style="letter-spacing:-0.677px">l</s><s style="letter-spacing:-0.677px">l</s>ha<s style="letter-spacing:-0.091px">f</s><s style="letter-spacing:-0.091px">t</s>e<s style="letter-spacing:-0.091px">)</s> Tempe<s style="letter-spacing:-0.091px">r</s>a<s style="letter-spacing:-0.091px">t</s>u<s style="letter-spacing:-0.091px">r</s>anoma<s style="letter-spacing:-0.677px">l</s><s style="letter-spacing:-0.677px">i</s>e zu<s style="letter-spacing:-0.091px">r</s> Ze<s style="letter-spacing:-0.677px">i</s><s style="letter-spacing:-0.091px">t</s></div>
<div class="t" style="left:17.32px;top:116px;letter-spacing:0.095px">stellt.</div>
<div class="t" style="left:17.28px;top:966px"><i>t</i></div>
<div class="t" style="left:31.23px;top:966px">…</div>
<div class="t" style="left:249.43px;top:966px"><i>t</i></div>
<div class="t" style="left:264.49px;top:966px">=</div>
<div class="t" style="left:285.38px;top:966px">0</div>
<div class="t" style="left:17.08px;top:997px;letter-spacing:-0.806px"><i>E</i>(<i>t</i>),</div>
<div class="t" style="left:62.96px;top:997px;letter-spacing:-0.847px"><i>Q</i>(<i>t</i>)</div>
<div class="t" style="left:105.73px;top:997px">…</div>
<div class="t" style="left:572.83px;top:997px"><i>t</i></div>
<div class="t" style="left:587.56px;top:997px;letter-spacing:0.208px">in</div>
<div class="t" style="left:609.89px;top:997px;letter-spacing:2.702px">°C</div>
<div class="t c" style="left:237.26px;top:339px;letter-spacing:-0.539px"><i>E</i>(<i>t</i>),</div>
<div class="t c" style="left:275.92px;top:339px;letter-spacing:-0.210px"><i>Q</i>(<i>t</i>)</div>
<div class="t c" style="left:311.85px;top:339px;letter-spacing:1.539px">in</div>
<div class="t c" style="left:332.10px;top:339px;letter-spacing:2.065px">°C</div>
<div class="t c" style="left:775.18px;top:814px"><i>t</i></div>
<div class="t c" style="left:786.15px;top:814px;letter-spacing:1.339px">in</div>
<div class="t c" style="left:806.69px;top:814px;letter-spacing:0.131px">Jahren</div>
<div class="t c" style="left:663.36px;top:476px"><i>E</i></div>
<div class="t c" style="left:674.32px;top:534px"><i>Q</i></div>
<div class="t c" style="left:203.50px;top:830px">0</div>
<div class="t c" style="left:187.60px;top:777px;letter-spacing:0.342px">0,2</div>
<div class="t c" style="left:187.60px;top:724px;letter-spacing:0.144px">0,4</div>
<div class="t c" style="left:187.60px;top:671px;letter-spacing:0.272px">0,6</div>
<div class="t c" style="left:187.60px;top:619px;letter-spacing:0.297px">0,8</div>
<div class="t c" style="left:204.03px;top:566px">1</div>
<div class="t c" style="left:186.83px;top:513px;letter-spacing:0.726px">1,2</div>
<div class="t c" style="left:186.83px;top:460px;letter-spacing:0.528px">1,4</div>
<div class="t c" style="left:186.83px;top:408px;letter-spacing:0.656px">1,6</div>
<div class="t c" style="left:186.83px;top:355px;letter-spacing:0.681px">1,8</div>
<div class="t c" style="left:223.66px;top:854px;letter-spacing:0.450px">0</div>
<div class="t c" style="left:271.19px;top:854px;letter-spacing:0.450px">5</div>
<div class="t c" style="left:312.86px;top:854px;letter-spacing:0.450px">10</div>
<div class="t c" style="left:360.51px;top:854px;letter-spacing:0.450px">15</div>
<div class="t c" style="left:408.37px;top:854px;letter-spacing:0.450px">20</div>
<div class="t c" style="left:456.02px;top:854px;letter-spacing:0.450px">25</div>
<div class="t c" style="left:503.57px;top:854px;letter-spacing:0.450px">30</div>
<div class="t c" style="left:551.22px;top:854px;letter-spacing:0.450px">35</div>
<div class="t c" style="left:599.12px;top:854px;letter-spacing:0.450px">40</div>
<div class="t c" style="left:646.77px;top:854px;letter-spacing:0.450px">45</div>
<div class="t c" style="left:694.08px;top:854px;letter-spacing:0.450px">50</div>
<div class="t c" style="left:741.72px;top:854px;letter-spacing:0.450px">55</div>
<div class="t c" style="left:789.32px;top:854px;letter-spacing:0.450px">60</div>
<div class="t c" style="left:836.97px;top:854px;letter-spacing:0.450px">65</div>
<div class="t c" style="left:209.02px;top:881px;letter-spacing:-0.080px">Jahr</div>
<div class="t c" style="left:205.83px;top:905px;letter-spacing:0.500px">1980</div>
<div class="t c" style="left:399.52px;top:881px;letter-spacing:-0.080px">Jahr</div>
<div class="t c" style="left:396.59px;top:905px;letter-spacing:0.500px">2000</div>
<div class="t c" style="left:590.02px;top:881px;letter-spacing:-0.080px">Jahr</div>
<div class="t c" style="left:587.09px;top:905px;letter-spacing:0.500px">2020</div>
<div class="t c" style="left:780.52px;top:881px;letter-spacing:-0.080px">Jahr</div>
<div class="t c" style="left:777.59px;top:905px;letter-spacing:0.500px">2040</div>
<div class="t c" style="left:162.10px;top:711.29px;letter-spacing:-0.166px;transform-origin:0 0;transform:rotate(-90deg)">Temperaturanomalie in °C</div>
</div></body></html>
